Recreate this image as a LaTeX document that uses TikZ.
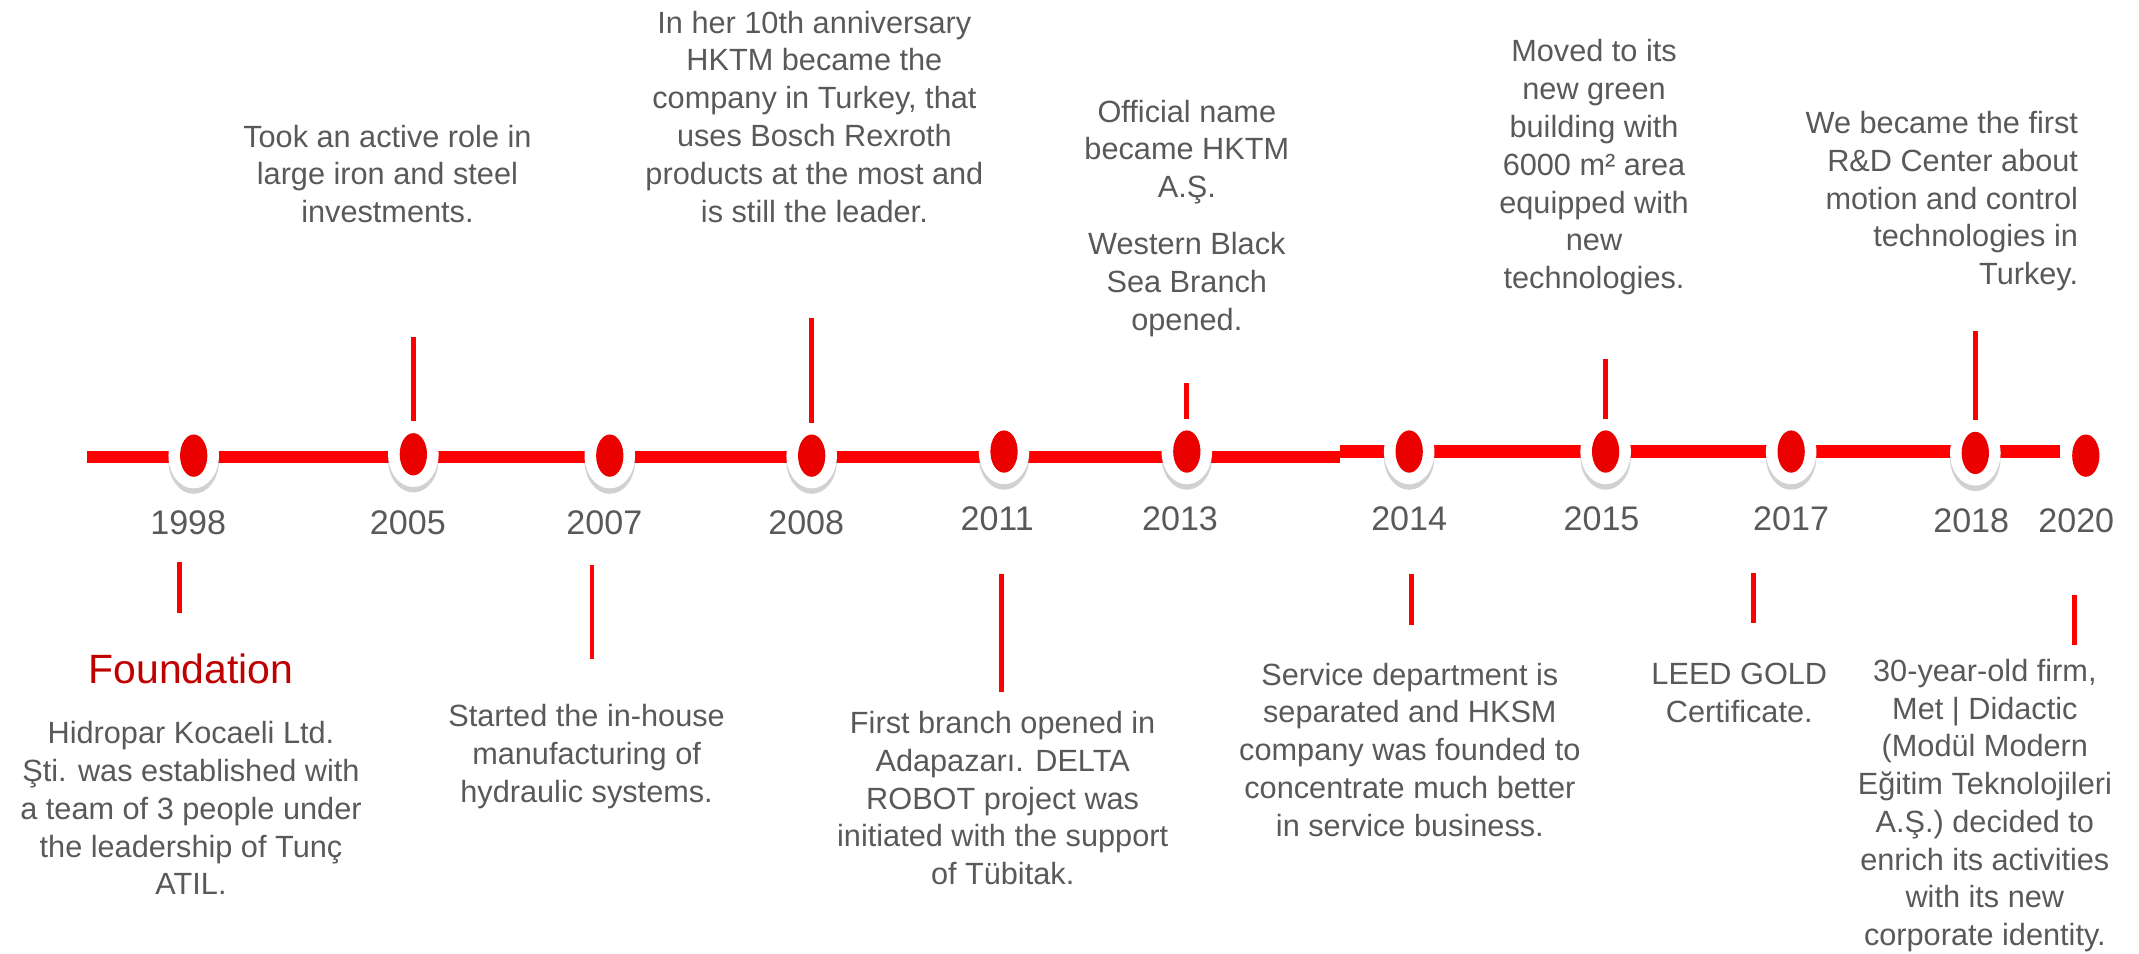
\documentclass[tikz,border=0pt]{standalone}
\usepackage{fontspec}
\setmainfont{Liberation Sans}
\usetikzlibrary{shapes.geometric,shadows}

\begin{document}
\begin{tikzpicture}[x=1pt,y=-1pt,
  ring/.style={ellipse,fill=white,minimum width=37pt,minimum height=48pt,inner sep=0pt,
    drop shadow={opacity=0.4,fill=black!45,shadow xshift=0pt,shadow yshift=-4pt}},
  bead/.style={ellipse,fill=\dred,minimum width=20pt,minimum height=31pt,inner sep=0pt},
  stem/.style={\lred,line width=3.5pt},
  yr/.style={text=\tgr,font=\fontsize{25}{30}\selectfont,inner sep=0pt},
  txt/.style={text=\tgr,font=\fontsize{22.5}{27.7}\selectfont,align=center,inner sep=0pt}]
\def\lred{red}
\def\dred{red!92!black}
\def\fred{red!75!black}
\def\tgr{black!65}

\useasboundingbox (0,0) rectangle (1568,699);

% time line
\coordinate (lstart) at (64,335);
\coordinate (lstep) at (982,335);
\coordinate (lstepb) at (982,331);
\coordinate (lend) at (1510,331);
\draw[\lred,line width=9pt] (lstart) -- (lstep);
\draw[\lred,line width=9pt] (lstepb) -- (lend);

% rings
\node[ring] (r1998) at (142,334) {};
\node[ring] (r2005) at (303,333) {};
\node[ring] (r2007) at (447,334) {};
\node[ring] (r2008) at (595,334) {};
\node[ring] (r2011) at (736,331) {};
\node[ring] (r2013) at (870,331) {};
\node[ring] (r2014) at (1033,331) {};
\node[ring] (r2015) at (1177,331) {};
\node[ring] (r2017) at (1313,331) {};
\node[ring] (r2018) at (1448,332) {};

\node[bead] (d1998) at (r1998) {};
\node[bead] (d2005) at (r2005) {};
\node[bead] (d2007) at (r2007) {};
\node[bead] (d2008) at (r2008) {};
\node[bead] (d2011) at (r2011) {};
\node[bead] (d2013) at (r2013) {};
\node[bead] (d2014) at (r2014) {};
\node[bead] (d2015) at (r2015) {};
\node[bead] (d2017) at (r2017) {};
\node[bead] (d2018) at (r2018) {};
\node[bead] (d2020) at (1529,334) {};

% years
\node[yr] (y1998) at (138,383) {1998};
\node[yr] (y2005) at (299,383) {2005};
\node[yr] (y2007) at (443,383) {2007};
\node[yr] (y2008) at (591,383) {2008};
\node[yr] (y2011) at (731,380) {2011};
\node[yr] (y2013) at (865,380) {2013};
\node[yr] (y2014) at (1033,380) {2014};
\node[yr] (y2015) at (1174,380) {2015};
\node[yr] (y2017) at (1313,380) {2017};
\node[yr] (y2018) at (1445,382) {2018};
\node[yr] (y2020) at (1522,382) {2020};

% stems above
\coordinate (s2005) at (303,247);
\coordinate (s2008) at (595,233);
\coordinate (s2013) at (870,281);
\coordinate (s2015) at (1177,263);
\coordinate (s2018) at (1448,243);
\draw[stem] (s2005) -- (r2005.north);
\draw[stem] (s2008) -- (r2008.north);
\draw[stem] (s2013) -- (r2013.north);
\draw[stem] (s2015) -- (r2015.north);
\draw[stem] (s2018) -- (r2018.north);

% stems below
\coordinate (s1998a) at (131.5,412);
\coordinate (s1998b) at (131.5,449);
\coordinate (s2007a) at (434,414);
\coordinate (s2007b) at (434,483);
\coordinate (s2011a) at (734,421);
\coordinate (s2011b) at (734,507);
\coordinate (s2014a) at (1034.5,421);
\coordinate (s2014b) at (1034.5,458);
\coordinate (s2017a) at (1285.5,420);
\coordinate (s2017b) at (1285.5,457);
\coordinate (s2020a) at (1520.5,436);
\coordinate (s2020b) at (1520.5,473);
\draw[stem] (s1998a) -- (s1998b);
\draw[stem] (s2007a) -- (s2007b);
\draw[stem] (s2011a) -- (s2011b);
\draw[stem] (s2014a) -- (s2014b);
\draw[stem] (s2017a) -- (s2017b);
\draw[stem] (s2020a) -- (s2020b);

% texts above
\node[txt] (n2005) at (284,127.5) {Took an active role in\\large iron and steel\\investments.};
\node[txt] (n2008) at (597,85.5) {In her 10th anniversary\\HKTM became the\\company in Turkey, that\\uses Bosch Rexroth\\products at the most and\\is still the leader.};
\node[txt] (n2013) at (870,160) {Official name\\became HKTM\\A.Ş.\\[14pt]Western Black\\Sea Branch\\opened.};
\node[txt] (n2015) at (1168.5,122.7) {Moved to its\\new green\\building with\\6000 m² area\\equipped with\\new\\technologies.};
\node[txt,align=right,anchor=east] (n2018) at (1523.5,147.4) {We became the first\\R\&D Center about\\motion and control\\technologies in\\Turkey.};

% texts below
\node[txt,text=\fred,font=\fontsize{30}{36}\selectfont] (found) at (140,490) {Foundation};
\node[txt] (n1998) at (140,592.4) {Hidropar Kocaeli Ltd.\\Şti. was established with\\a team of 3 people under\\the leadership of Tunç\\ATIL.};
\node[txt] (n2007) at (430,554.5) {Started the in-house\\manufacturing of\\hydraulic systems.};
\node[txt] (n2011) at (735,585) {First branch opened in\\Adapazarı. DELTA\\ROBOT project was\\initiated with the support\\of Tübitak.};
\node[txt] (n2014) at (1033.5,549.6) {Service department is\\separated and HKSM\\company was founded to\\concentrate much better\\in service business.};
\node[txt] (n2017) at (1275,508) {LEED GOLD\\Certificate.};
\node[txt] (n2020) at (1455,590.5) {30-year-old firm,\\Met | Didactic\\(Modül Modern\\Eğitim Teknolojileri\\A.Ş.) decided to\\enrich its activities\\with its new\\corporate identity.};

\end{tikzpicture}
\end{document}
